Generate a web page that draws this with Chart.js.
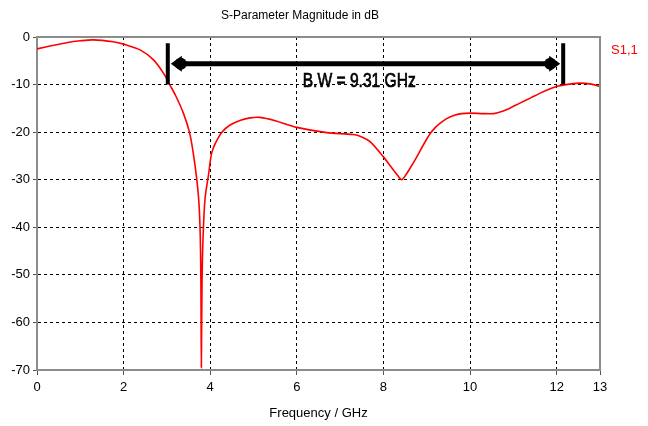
<!DOCTYPE html>
<html>
<head>
<meta charset="utf-8">
<script src="https://cdn.jsdelivr.net/npm/chart.js@4.4.1/dist/chart.umd.min.js"></script>
<style>
    html, body { margin: 0; padding: 0; background: #fff; }
    canvas { display: block; }
</style>
</head>
<body>
<canvas id="sparam" width="648" height="426"></canvas>
<script>
// ========================================
// DATA
// ========================================

const freqGHz = [
    0, 0.35, 0.68, 1.0, 1.3, 1.76, 2.0, 2.38, 2.69, 2.92, 3.07, 3.2, 3.38, 3.52,
    3.61, 3.69, 3.74, 3.77, 3.785, 3.795, 3.81, 3.835, 3.88, 3.96, 4.03, 4.12,
    4.27, 4.46, 4.7, 4.92, 5.15, 5.5, 6.0, 6.69, 7.3, 7.5, 7.69, 8.0, 8.2, 8.32,
    8.42, 8.5, 8.6, 8.77, 8.92, 9.08, 9.2, 9.31, 9.45, 9.62, 9.8, 10.0, 10.3, 10.55,
    10.75, 10.95, 11.15, 11.4, 11.62, 11.85, 12.04, 12.3, 12.54, 12.8, 13.0
];
const s11dB = [
    -2.5, -1.8, -1.2, -0.8, -0.6, -1.0, -1.5, -2.7, -4.8, -7.6, -10.1, -12.3, -16.0, -20,
    -24.5, -30, -35, -42, -52, -69.5, -52, -42, -34, -29, -24.5, -22.3,
    -20, -18.5, -17.5, -17.0, -16.9, -17.6, -19.0, -20.1, -20.5, -21, -22, -25.2, -27.6, -29.0,
    -30, -29.2, -27.8, -25.2, -22.7, -20.3, -19.0, -18.1, -17.2, -16.5, -16.1, -16.0, -16.1, -16.1,
    -15.6, -14.8, -13.9, -12.8, -11.8, -10.9, -10.3, -9.9, -9.7, -9.9, -10.4
];

const xTicks = [0, 2, 4, 6, 8, 10, 12, 13];
const yTicks = [0, -10, -20, -30, -40, -50, -60, -70];

// bandwidth marker: band edges (GHz), arrow level and bar span (dB), label
const bwEdges = [3.02, 12.15];
const bwArrowDb = -5.6;
const bwBarDb = [-1.3, -10];
const bwLabel = 'B.W = 9.31 GHz';
const bwLabelAt = [7.44, -9.4];

const seriesName = 'S1,1';

// ========================================
// STYLE
// ========================================

const FONT = '"Liberation Sans", Arial, sans-serif';
const AXIS_GRAY = '#8c8c8c';

// ========================================
// PLUGIN: frame, bandwidth arrow, series label
// ========================================

const overlayPlugin = {
    id: 'overlay',
    afterDraw(chart) {
        const { ctx, chartArea: a, scales: { x, y } } = chart;

        // frame (top / right side)
        ctx.save();
        ctx.strokeStyle = AXIS_GRAY;
        ctx.lineWidth = 2;
        ctx.beginPath();
        ctx.moveTo(a.left, a.top);
        ctx.lineTo(a.right, a.top);
        ctx.lineTo(a.right, a.bottom);
        ctx.stroke();

        // bandwidth arrow
        const xl = x.getPixelForValue(bwEdges[0]);
        const xr = x.getPixelForValue(bwEdges[1]);
        const ya = y.getPixelForValue(bwArrowDb);
        const yt = y.getPixelForValue(bwBarDb[0]);
        const yb = y.getPixelForValue(bwBarDb[1]);

        ctx.fillStyle = '#000';
        ctx.strokeStyle = '#000';
        ctx.lineWidth = 5;
        ctx.beginPath();
        ctx.moveTo(xl + 8, ya);
        ctx.lineTo(xr - 8, ya);
        ctx.stroke();

        ctx.lineWidth = 4;
        ctx.beginPath();
        ctx.moveTo(xl, yt);
        ctx.lineTo(xl, yb);
        ctx.moveTo(xr, yt);
        ctx.lineTo(xr, yb);
        ctx.stroke();

        [[xl, 1], [xr, -1]].forEach(([px, dir]) => {
            ctx.beginPath();
            ctx.moveTo(px + dir * 3, ya);
            ctx.lineTo(px + dir * 14, ya - 8);
            ctx.lineTo(px + dir * 14, ya + 8);
            ctx.closePath();
            ctx.fill();
            ctx.beginPath();
            ctx.arc(px + dir * 13, ya, 6, 0, Math.PI * 2);
            ctx.fill();
        });

        // label, squeezed to the narrow face of the original
        ctx.save();
        ctx.translate(x.getPixelForValue(bwLabelAt[0]), y.getPixelForValue(bwLabelAt[1]));
        ctx.scale(0.78, 1);
        ctx.font = '20px ' + FONT;
        ctx.textAlign = 'center';
        ctx.textBaseline = 'middle';
        ctx.lineWidth = 0.7;
        ctx.fillText(bwLabel, 0, 0);
        ctx.strokeText(bwLabel, 0, 0);
        ctx.restore();

        // series label
        ctx.fillStyle = '#ff0000';
        ctx.font = '13px ' + FONT;
        ctx.textAlign = 'left';
        ctx.textBaseline = 'middle';
        ctx.fillText(seriesName, a.right + 11, a.top + 13);
        ctx.restore();
    }
};

// ========================================
// CHART
// ========================================

const tickFont = { family: FONT, size: 13 };

new Chart(document.getElementById('sparam'), {
    type: 'line',
    data: {
        datasets: [{
            label: seriesName,
            data: freqGHz.map((f, i) => ({ x: f, y: s11dB[i] })),
            borderColor: '#ff0000',
            borderWidth: 1.6,
            pointRadius: 0,
            fill: false,
            tension: 0.3
        }]
    },
    options: {
        responsive: false,
        animation: false,
        layout: { padding: { top: 0, right: 48, bottom: 0, left: 0 } },
        plugins: {
            legend: { display: false },
            tooltip: { enabled: false },
            title: {
                display: true,
                text: 'S-Parameter Magnitude in dB',
                color: '#000',
                font: { family: FONT, size: 12, weight: 'normal' },
                padding: { top: 8, bottom: 14.6 }
            }
        },
        scales: {
            x: {
                type: 'linear',
                min: 0,
                max: 13,
                afterBuildTicks: s => { s.ticks = xTicks.map(v => ({ value: v })); },
                afterFit: s => { s.height = 56; },
                grid: { color: '#000', lineWidth: 1, tickLength: 5, tickColor: '#555', tickBorderDash: [] },
                border: { display: true, color: AXIS_GRAY, width: 2, dash: [3, 3] },
                ticks: { color: '#000', font: tickFont, padding: 5, maxRotation: 0, autoSkip: false },
                title: {
                    display: true,
                    text: 'Frequency / GHz',
                    color: '#000',
                    font: tickFont,
                    padding: { top: 0, bottom: 5 }
                }
            },
            y: {
                min: -70,
                max: 0,
                afterBuildTicks: s => { s.ticks = yTicks.map(v => ({ value: v })); },
                afterFit: s => { s.width = 37; },
                grid: { color: '#000', lineWidth: 1, tickLength: 4, tickColor: '#555', tickBorderDash: [] },
                border: { display: true, color: AXIS_GRAY, width: 2, dash: [3, 3] },
                ticks: { color: '#000', font: tickFont, padding: 3, autoSkip: false }
            }
        }
    },
    plugins: [overlayPlugin]
});
</script>
</body>
</html>
